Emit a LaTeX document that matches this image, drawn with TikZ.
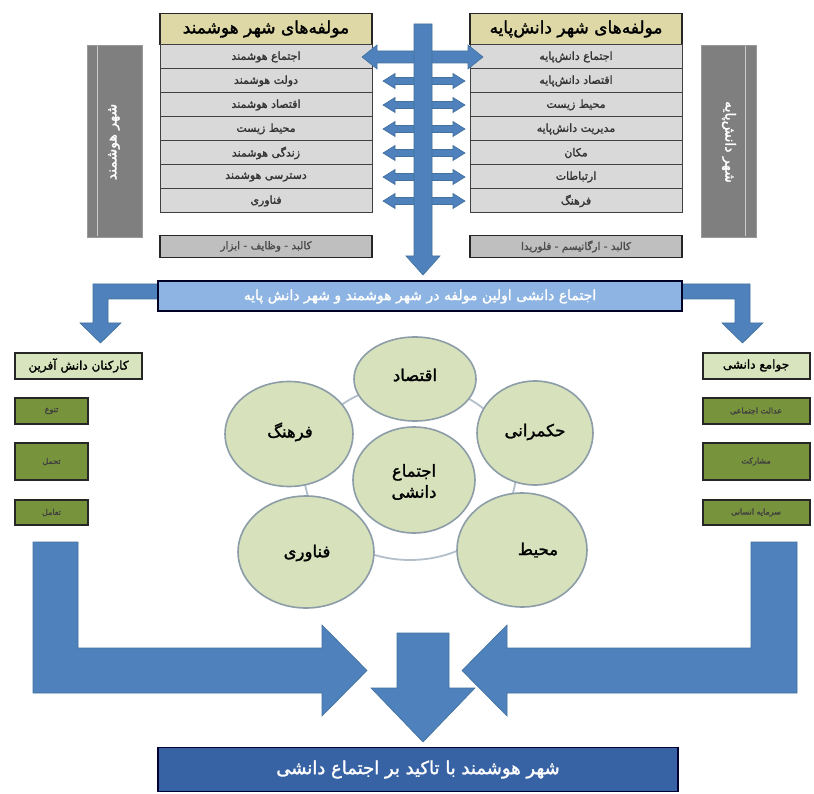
\documentclass[tikz,border=0pt]{standalone}
\usepackage{fontspec}
\newfontfamily\fa[Script=Arabic]{DejaVu Sans}
\newfontfamily\fab[Script=Arabic,FakeBold=1.6]{DejaVu Sans}
\TeXXeTstate=1
\usetikzlibrary{shapes.geometric,calc}
\newcommand{\fr}[1]{\beginR #1\endR}
\definecolor{khaki}{HTML}{DDD8A6}
\definecolor{rowgray}{HTML}{D9D9D9}
\definecolor{sidegray}{HTML}{7F7F7F}
\definecolor{boxgray}{HTML}{BFBFBF}
\definecolor{midblue}{HTML}{8DB4E2}
\definecolor{arrblue}{HTML}{4F81BD}
\definecolor{arrline}{HTML}{41719C}
\definecolor{darkblue}{HTML}{3762A3}
\definecolor{lgreen}{HTML}{D7E4BD}
\definecolor{olive}{HTML}{77933C}
\definecolor{circfill}{HTML}{D7E1BC}
\definecolor{circline}{HTML}{8C9DA8}
\definecolor{ringline}{HTML}{B3BFCB}
\newcommand{\dblarr}[6]{%
  \fill[arr] (#1,#3) -- (#1+#6,#3-#5) -- (#1+#6,#3-#4) -- (#2-#6,#3-#4) -- (#2-#6,#3-#5) -- (#2,#3)
   -- (#2-#6,#3+#5) -- (#2-#6,#3+#4) -- (#1+#6,#3+#4) -- (#1+#6,#3+#5) -- cycle;}
\begin{document}
\begin{tikzpicture}[x=1pt,y=-1pt,
  every node/.style={inner sep=0pt, outer sep=0pt},
  arr/.style={fill=arrblue, draw=arrline, line width=0.6pt},
  hdr/.style={rectangle, draw=black!85, line width=1.5pt, fill=khaki, minimum width=212pt, minimum height=31pt,
    font=\fab\fontsize{17}{19}\selectfont},
  rowbox/.style={rectangle, draw=black!75, line width=1pt, fill=rowgray, minimum width=212pt, minimum height=24pt,
    font=\fab\fontsize{11}{12}\selectfont, text=black!80},
  graybox/.style={rectangle, draw=black!85, line width=1.5pt, fill=boxgray, minimum width=212pt, minimum height=22pt,
    font=\fab\fontsize{10.5}{12}\selectfont, text=black!70},
  sidebar/.style={rectangle, draw=sidegray!80!white, line width=0.8pt, fill=sidegray, minimum width=55pt, minimum height=192pt},
  sidetext/.style={font=\fab\fontsize{14}{16}\selectfont, text=white},
  colhdr/.style={rectangle, draw=black!85, line width=2pt, fill=lgreen, minimum height=26pt,
    font=\fab\fontsize{12}{14}\selectfont},
  colitem/.style={rectangle, draw=black!85, line width=2pt, fill=olive, font=\fab\fontsize{8}{9}\selectfont, text=black!75},
  circ/.style={ellipse, draw=circline, line width=1.6pt, fill=circfill},
  ctext/.style={font=\fab\fontsize{16.5}{21}\selectfont, align=center},
]
\useasboundingbox (0,0) rectangle (814,794);
\fill[white] (0,0) rectangle (814,794);

% side bars
\node[sidebar] (sl) at (114.5,141) {};
\draw[white!60!sidegray, line width=0.5pt] (97,46) -- (97,236);
\node[sidetext, rotate=90] (slt) at (114,142) {\fr{شهر هوشمند}};
\node[sidebar] (sr) at (728.5,141) {};
\draw[white!60!sidegray, line width=0.5pt] (745,46) -- (745,236);
\node[sidetext, rotate=-90] (srt) at (729,142) {\fr{شهر دانش^^^^200cپایه}};

% left table
\node[hdr] (LH) at (266,29) {\fr{مولفه^^^^200cهای شهر هوشمند}};
\node[rowbox] (L1) at (266,57) {\fr{اجتماع هوشمند}};
\node[rowbox] (L2) at (266,81) {\fr{دولت هوشمند}};
\node[rowbox] (L3) at (266,105) {\fr{اقتصاد هوشمند}};
\node[rowbox] (L4) at (266,129) {\fr{محیط زیست}};
\node[rowbox] (L5) at (266,153) {\fr{زندگی هوشمند}};
\node[rowbox] (L6) at (266,177) {\fr{دسترسی هوشمند}};
\node[rowbox] (L7) at (266,201) {\fr{فناوری}};
\node[graybox] (LG) at (266,246.5) {\fr{کالبد - وظایف - ابزار}};

% right table
\node[hdr] (RH) at (576,29) {\fr{مولفه^^^^200cهای شهر دانش^^^^200cپایه}};
\node[rowbox] (R1) at (576,57) {\fr{اجتماع دانش^^^^200cپایه}};
\node[rowbox] (R2) at (576,81) {\fr{اقتصاد دانش^^^^200cپایه}};
\node[rowbox] (R3) at (576,105) {\fr{محیط زیست}};
\node[rowbox] (R4) at (576,129) {\fr{مدیریت دانش^^^^200cپایه}};
\node[rowbox] (R5) at (576,153) {\fr{مکان}};
\node[rowbox] (R6) at (576,177) {\fr{ارتباطات}};
\node[rowbox] (R7) at (576,201) {\fr{فرهنگ}};
\node[graybox] (RG) at (576,246.5) {\fr{کالبد - ارگانیسم - فلوریدا}};

% double arrows between the tables
\dblarr{362}{483}{57}{6}{12}{15}
\dblarr{383}{465}{81}{3.5}{7.5}{12}
\dblarr{383}{465}{105}{3.5}{7.5}{12}
\dblarr{383}{465}{129}{3.5}{7.5}{12}
\dblarr{383}{465}{153}{3.5}{7.5}{12}
\dblarr{383}{465}{177}{3.5}{7.5}{12}
\dblarr{383}{465}{201}{3.5}{7.5}{12}

% vertical arrow
\fill[arr] (414,24) -- (432,24) -- (432,256) -- (440,256) -- (423,275) -- (406,256) -- (414,256) -- cycle;

% bent arrows from the middle bar
\fill[arr] (162,284) -- (93,284) -- (93,323) -- (80,323) -- (100.5,343) -- (121,323) -- (108,323) -- (108,299) -- (162,299) -- cycle;
\fill[arr] (678,284) -- (750,284) -- (750,323) -- (763,323) -- (742.5,343) -- (722,323) -- (735,323) -- (735,299) -- (678,299) -- cycle;

% middle bar
\node[rectangle, draw=black!85!blue, line width=2pt, fill=midblue, minimum width=524pt, minimum height=30pt,
  font=\fab\fontsize{14}{16}\selectfont, text=white] (mid) at (420,296.5)
  {\fr{اجتماع دانشی اولین مولفه در شهر هوشمند و شهر دانش پایه}};

% left column
\node[colhdr, minimum width=127pt] (KH) at (78.5,365.5) {\fr{کارکنان دانش آفرین}};
\node[colitem, minimum width=73pt, minimum height=26pt] (K1) at (51.5,411) {\fr{تنوع}};
\node[colitem, minimum width=73pt, minimum height=37pt] (K2) at (51.5,461.5) {\fr{تحمل}};
\node[colitem, minimum width=73pt, minimum height=25pt] (K3) at (51.5,512.5) {\fr{تعامل}};

% right column
\node[colhdr, minimum width=107pt] (JH) at (756,365.5) {\fr{جوامع دانشی}};
\node[colitem, minimum width=107pt, minimum height=26pt] (J1) at (756,411) {\fr{عدالت اجتماعی}};
\node[colitem, minimum width=107pt, minimum height=37pt] (J2) at (756,461.5) {\fr{مشارکت}};
\node[colitem, minimum width=107pt, minimum height=25pt] (J3) at (756,512.5) {\fr{سرمایه انسانی}};

% ring and circles
\node[ellipse, draw=ringline, line width=1.8pt, fill=white, minimum width=212pt, minimum height=176pt] (ring) at (410,472) {};
\node[circ, minimum width=122pt, minimum height=84pt] (c1) at (415,379) {};
\node[circ, minimum width=116pt, minimum height=104pt] (c2) at (535,433) {};
\node[circ, minimum width=128pt, minimum height=105pt] (c5) at (289,434) {};
\node[circ, minimum width=130pt, minimum height=114pt] (c3) at (522,550) {};
\node[circ, minimum width=136pt, minimum height=112pt] (c4) at (306,552) {};
\node[circ, minimum width=122pt, minimum height=106pt] (c0) at (414,480) {};
\node[ctext] (t1) at (415,375) {\fr{اقتصاد}};
\node[ctext] (t2) at (535,432) {\fr{حکمرانی}};
\node[ctext] (t5) at (290,432) {\fr{فرهنگ}};
\node[ctext] (t3) at (538,550) {\fr{محیط}};
\node[ctext] (t4) at (307,553) {\fr{فناوری}};
\node[ctext] (t0) at (414,482) {\fr{اجتماع}\\\fr{دانشی}};

% big bottom arrows
\fill[arr] (33,542) -- (78,542) -- (78,648) -- (322,648) -- (322,625) -- (367,670.5) -- (322,716) -- (322,693) -- (33,693) -- cycle;
\fill[arr] (797,542) -- (751,542) -- (751,648) -- (507,648) -- (507,625) -- (462,670.5) -- (507,716) -- (507,693) -- (797,693) -- cycle;
\fill[arr] (397,633) -- (449,633) -- (449,688) -- (475,688) -- (423,742) -- (371,688) -- (397,688) -- cycle;

% bottom box
\node[rectangle, draw=black!80!blue, line width=1.5pt, fill=darkblue, minimum width=520pt, minimum height=44pt,
  font=\fab\fontsize{18}{20}\selectfont, text=white] (res) at (418,769.5)
  {\fr{شهر هوشمند با تاکید بر اجتماع دانشی}};
\end{tikzpicture}
\end{document}
